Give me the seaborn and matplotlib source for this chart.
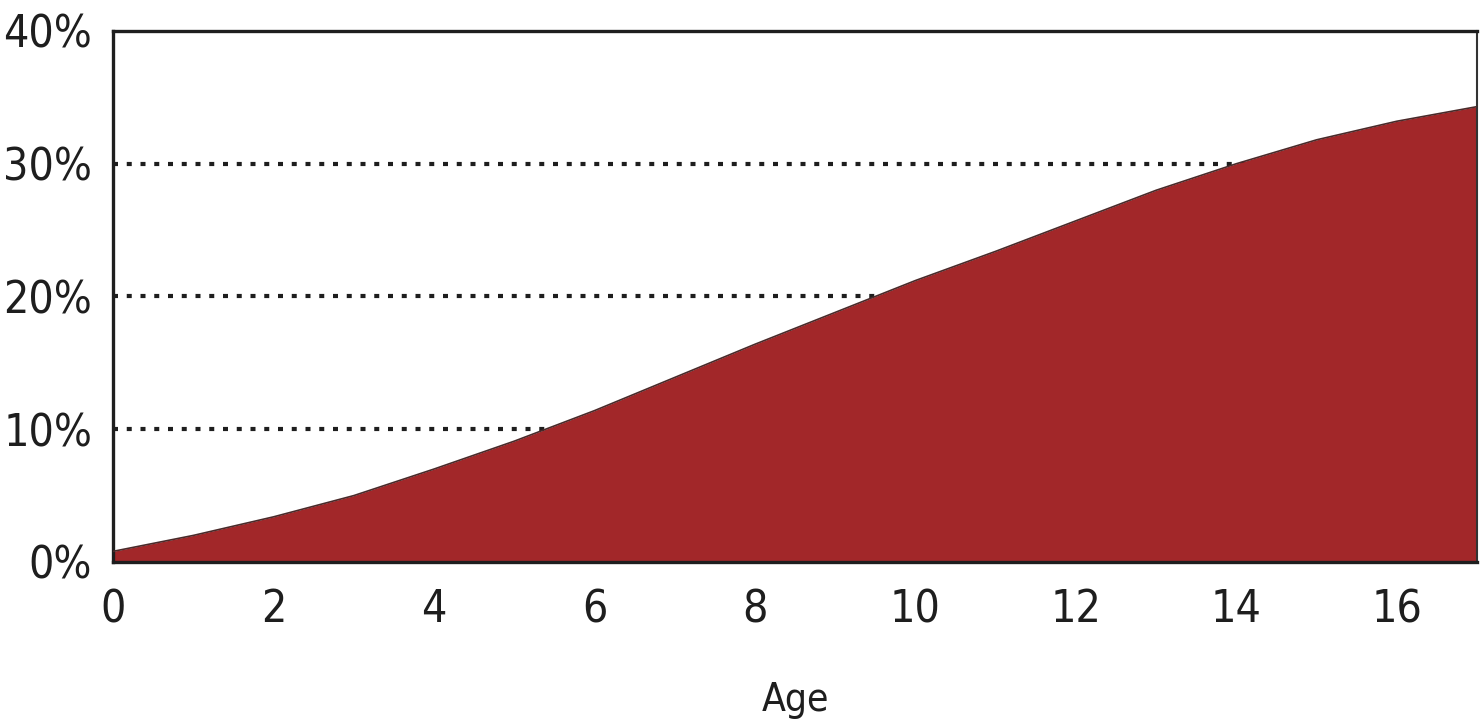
import matplotlib
matplotlib.use("Agg")
import matplotlib.pyplot as plt
import matplotlib.ticker as mticker
from matplotlib import font_manager
import seaborn as sns
import pandas as pd

# data
age = [0, 1, 2, 3, 4, 5, 6, 7, 8, 9, 10, 11, 12, 13, 14, 15, 16, 17]
share = [0.8, 2.0, 3.4, 5.0, 7.0, 9.1, 11.4, 13.9, 16.4, 18.8, 21.2, 23.4, 25.7, 28.0, 30.0, 31.8, 33.2, 34.3]

grid_levels = [10, 20, 30]
x_labels = [0, 2, 4, 6, 8, 10, 12, 14, 16]

df = pd.DataFrame({"age": age, "share": share})

sns.set_style("white")
# pick a narrow face if one is installed
names = {f.name for f in font_manager.fontManager.ttflist}
narrow = [n for n in ["Liberation Sans Narrow", "DejaVu Sans Condensed"] if n in names]
plt.rcParams['font.family'] = narrow + ['DejaVu Sans']
plt.rcParams['font.stretch'] = 'condensed'
fill_color = "#a22729"
ink = "#1e1e1e"

fig = plt.figure(figsize=(14.8, 7.27), dpi=100)
ax = fig.add_axes([0.0764, 0.2270, 0.9216, 0.7304])

# dotted guide lines sit behind the area
for lvl in grid_levels:
    ax.axhline(lvl, color=ink, lw=3, linestyle=(0, (1.2, 2.1)), zorder=1)

ax.fill_between(df["age"], 0, df["share"], color=fill_color, lw=0, zorder=2)
sns.lineplot(data=df, x="age", y="share", ax=ax, color="#4a2a2a", lw=1.2, zorder=3)

ax.set_xlim(0, 17)
ax.set_ylim(0, 40)
ax.set_xticks(range(0, 18))
ax.set_xticklabels([str(i) if i in x_labels else "" for i in range(0, 18)])
ax.set_yticks([0, 10, 20, 30, 40])
ax.yaxis.set_major_formatter(mticker.FuncFormatter(lambda v, p: f"{v:.0f}%"))

ax.tick_params(axis="x", direction="out", length=10, width=2.4, color=ink,
               labelsize=32, pad=9, labelcolor=ink)
ax.tick_params(axis="y", direction="out", length=12, width=2.4, color=ink,
               labelsize=32, pad=3, labelcolor=ink)
ax.set_xlabel("Age", fontsize=28, color=ink, labelpad=36)
ax.set_ylabel("")

for side in ["left", "bottom", "top"]:
    ax.spines[side].set_linewidth(2.4)
    ax.spines[side].set_color(ink)
ax.spines["right"].set_linewidth(1.5)
ax.spines["right"].set_color("#333333")

fig.savefig("out.png", dpi=100)
plt.close(fig)
